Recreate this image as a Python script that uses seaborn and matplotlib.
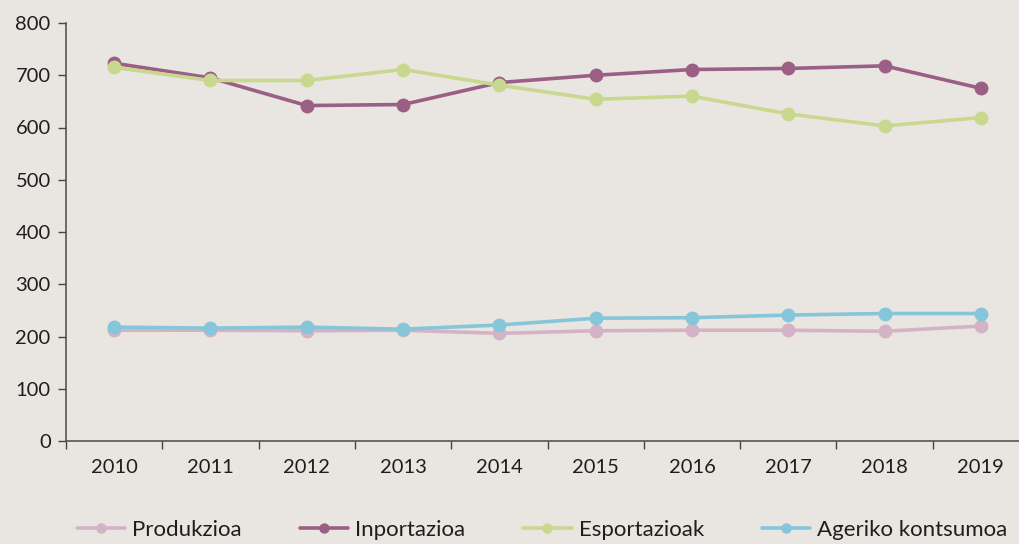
import numpy as np
import pandas as pd
import matplotlib
matplotlib.use("Agg")
import matplotlib.pyplot as plt
import seaborn as sns

# Data
years = ["2010", "2011", "2012", "2013", "2014", "2015", "2016", "2017", "2018", "2019"]
produkzioa = [212, 212, 211, 212, 206, 211, 212, 212, 210, 220]
inportazioa = [723, 695, 642, 644, 686, 700, 711, 713, 718, 675]
esportazioak = [715, 690, 690, 711, 681, 654, 660, 626, 603, 619]
ageriko = [218, 216, 218, 214, 222, 235, 236, 241, 244, 244]

series_names = ["Produkzioa", "Inportazioa", "Esportazioak", "Ageriko kontsumoa"]
series_vals = [produkzioa, inportazioa, esportazioak, ageriko]
colors = ["#D4B3C6", "#9B5F85", "#C8D88E", "#86C6DA"]

rows = []
for name, vals in zip(series_names, series_vals):
    for i, v in enumerate(vals):
        rows.append({"pos": i, "year": years[i], "value": v, "serie": name})
df = pd.DataFrame(rows)

bg = "#E9E6E1"
sns.set_style("ticks")
plt.rcParams["font.family"] = ["Lato", "DejaVu Sans"]
plt.rcParams["axes.facecolor"] = bg
plt.rcParams["figure.facecolor"] = bg
plt.rcParams["text.color"] = "#1E1E1E"

fig = plt.figure(figsize=(10.19, 5.44), dpi=100)
ax = fig.add_axes([66 / 1019, 1 - 441 / 544, (1029 - 66) / 1019, (441 - 23) / 544])

sns.lineplot(data=df, x="pos", y="value", hue="serie", hue_order=series_names,
             palette=colors, marker="o", markersize=10, markeredgewidth=0,
             linewidth=2.6, ax=ax, legend=True)

ax.set_xlim(-0.5, 9.5)
ax.set_ylim(0, 800)
ax.set_yticks(range(0, 801, 100))
ax.set_xticks(np.arange(-0.5, 10, 1))
ax.set_xticklabels([])
ax.set_xticks(range(10), minor=True)
ax.set_xticklabels(years, minor=True)
ax.tick_params(axis="x", which="minor", length=0, pad=13, labelsize=14.5, labelcolor="#1E1E1E")
ax.tick_params(axis="x", which="major", length=6, width=1, color="#444444")
ax.tick_params(axis="y", length=6, width=1, color="#444444", labelsize=14.5, labelcolor="#1E1E1E", pad=5)
ax.set_xlabel("")
ax.set_ylabel("")
for s in ["top", "right"]:
    ax.spines[s].set_visible(False)
for s in ["left", "bottom"]:
    ax.spines[s].set_color("#555555")
    ax.spines[s].set_linewidth(1.2)

ax.legend_.remove()
handles, labels = ax.get_legend_handles_labels()
fig.legend(handles, labels, loc="center", bbox_to_anchor=(542 / 1019, 1 - 530 / 544),
           ncol=4, frameon=False, fontsize=16, handlelength=2.2, columnspacing=2.6,
           handletextpad=0.3, markerscale=0.75)

fig.savefig("out.png", dpi=100, facecolor=bg)
